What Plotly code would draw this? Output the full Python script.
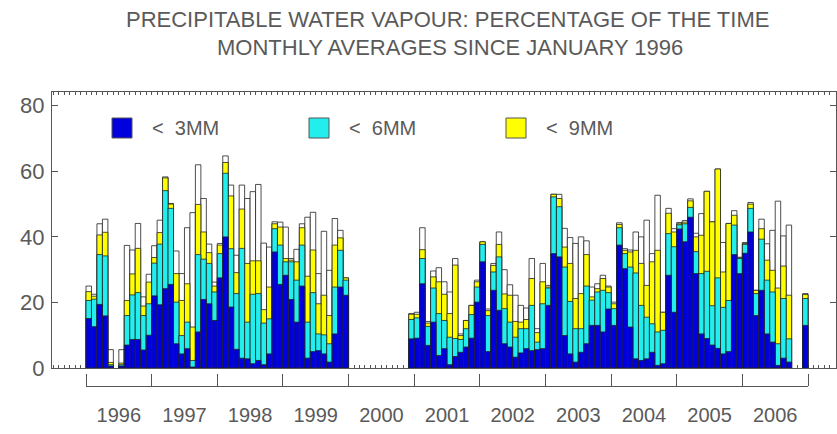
import plotly.graph_objects as go

# ---------------- data (monthly, Jan 1996 .. Dec 2006; None = no data) ----------------
years = [1996, 1997, 1998, 1999, 2000, 2001, 2002, 2003, 2004, 2005, 2006]
N = None

pct_lt3 = [
    15.1, 12.6, 19.4, 15.9, 0.6, N, 0.6, 7.0, 8.7, 8.7, 5.5, 10.0,
    22.0, 19.3, 24.2, 25.5, 7.4, 4.3, 5.9, 0.3, 11.0, 20.9, 19.6, 14.5,
    27.5, 40.0, 18.6, 5.7, 3.0, 2.8, 1.3, 2.3, 1.0, 4.3, 35.4, 25.5,
    28.3, 20.9, 14.0, 25.0, 3.0, 5.0, 5.3, 4.3, 1.8, 10.4, 24.7, 22.2,
    N, N, N, N, N, N, N, N, N, N, N, 8.9,
    9.1, 25.7, 6.9, 14.0, 3.8, 5.9, 1.0, 3.5, 4.8, 6.4, 9.1, 20.1,
    32.4, 5.0, 23.7, 17.6, 7.4, 6.4, 3.3, 4.6, 5.9, 5.3, 5.6, 5.9,
    19.1, 34.9, 33.9, 9.9, 4.3, 1.8, 4.8, 7.4, 13.0, 13.0, 11.0, 18.0,
    13.0, 37.5, 30.3, 12.5, 2.8, 2.3, 2.8, 4.8, 0.8, 1.3, 28.3, 17.0,
    42.4, 38.5, 46.0, 28.8, 10.4, 9.0, 7.0, 6.0, 4.3, 5.0, 34.6, 28.8,
    35.0, 41.5, 16.0, 23.7, 10.4, 7.9, 0.8, 3.0, 1.8, N, N, 13.0,
]

pct_lt6 = [
    20.6, 21.0, 34.6, 34.2, 1.0, N, 1.0, 16.0, 22.3, 23.0, 16.0, 19.6,
    32.0, 37.8, 54.1, 48.7, 20.1, 9.9, 14.0, 2.3, 34.6, 33.2, 31.9, 23.2,
    34.9, 59.4, 36.4, 22.7, 36.5, 14.0, 22.5, 22.7, 13.7, 15.0, 42.5, 37.5,
    32.4, 32.4, 26.8, 37.5, 14.0, 23.0, 10.4, 10.1, 7.4, 24.7, 35.9, 26.8,
    N, N, N, N, N, N, N, N, N, N, N, 14.8,
    15.3, 33.4, 12.7, 24.4, 16.6, 14.5, 9.4, 9.0, 8.7, 12.0, 16.3, 24.7,
    37.7, 16.0, 29.3, 33.9, 18.1, 14.0, 9.4, 12.0, 12.0, 19.1, 7.9, 19.6,
    24.4, 52.2, 49.2, 30.8, 20.3, 12.0, 12.0, 25.0, 20.7, 23.2, 23.7, 23.0,
    18.1, 42.8, 34.9, 30.8, 29.0, 19.1, 15.5, 13.5, 11.0, 11.5, 41.0, 37.0,
    43.7, 44.0, 49.0, 35.5, 28.8, 29.5, 19.0, 27.5, 18.5, 20.6, 43.6, 33.4,
    37.7, 48.7, 22.7, 39.3, 26.8, 23.2, 7.4, 21.2, 8.9, N, N, 21.2,
]

pct_lt9 = [
    23.3, 21.9, 40.6, 41.4, 1.7, N, 1.5, 20.6, 28.7, 36.5, 18.9, 26.2,
    33.7, 41.3, 58.0, 50.0, 28.8, 20.6, 25.7, 12.5, 49.9, 41.5, 35.2, 25.0,
    37.5, 62.7, 52.5, 29.1, 48.5, 31.9, 32.7, 32.7, 17.8, 24.7, 44.0, 43.0,
    33.4, 32.9, 32.4, 42.8, 28.0, 36.0, 19.6, 22.2, 16.0, 37.5, 39.7, 27.5,
    N, N, N, N, N, N, N, N, N, N, N, 16.4,
    16.4, 36.1, 13.7, 27.8, 26.3, 22.5, 16.6, 31.4, 9.9, 14.5, 19.1, 26.3,
    38.5, 17.5, 31.3, 37.7, 22.6, 22.2, 14.2, 14.0, 14.8, 27.3, 10.8, 26.3,
    24.7, 53.0, 51.7, 36.9, 31.9, 21.2, 22.7, 34.6, 21.7, 24.2, 27.3, 24.7,
    19.6, 43.8, 35.9, 35.4, 35.9, 31.9, 25.2, 32.4, 35.9, 17.0, 47.2, 41.5,
    44.0, 44.5, 51.0, 40.0, 40.5, 53.9, 44.6, 60.7, 29.3, 44.1, 46.6, 33.6,
    38.0, 50.0, 23.7, 42.5, 32.9, 29.8, 24.4, 31.1, 22.2, N, N, 22.4,
]

pct_upper = [
    25.0, 22.5, 44.0, 45.4, 5.6, N, 5.6, 37.4, 36.0, 44.1, 21.7, 28.6,
    37.3, 45.1, 58.3, 50.2, 35.7, 28.8, 42.8, 47.4, 62.0, 51.7, 37.8, 26.2,
    38.0, 64.7, 55.8, 34.4, 55.8, 51.7, 53.8, 56.0, 38.1, 36.9, 44.6, 44.5,
    43.0, 33.4, 36.2, 44.0, 46.0, 47.5, 28.8, 41.7, 29.8, 45.6, 42.0, 27.5,
    N, N, N, N, N, N, N, N, N, N, N, 16.6,
    17.0, 42.8, 14.2, 29.6, 30.6, 26.3, 23.2, 33.4, 10.4, 14.5, 19.1, 26.8,
    38.5, 18.0, 31.9, 41.5, 30.0, 25.4, 22.2, 19.1, 18.3, 33.4, 12.0, 31.9,
    25.2, 53.0, 53.0, 42.6, 39.8, 38.0, 40.0, 38.8, 24.7, 25.7, 28.3, 25.0,
    20.1, 44.3, 36.4, 36.0, 41.5, 40.0, 45.1, 34.9, 52.7, 17.0, 48.7, 42.5,
    44.4, 45.0, 51.6, 41.1, 47.1, 53.9, 44.6, 60.7, 38.3, 44.1, 48.0, 33.8,
    38.3, 50.5, 23.7, 45.4, 37.9, 42.0, 50.9, 40.3, 43.6, N, N, 22.7,
]

legend_labels = ["&lt;\u00a0 3MM", "&lt;\u00a0 6MM", "&lt;\u00a0 9MM"]

# ---------------- styling ----------------
W, H = 837, 434
ML, MR, MT, MB = 52, 1, 92, 10
FONT = "Liberation Sans, Arial, sans-serif"
TXT = "#5a5a5a"
AX = "#555555"
C_BLUE, C_CYAN, C_YEL, C_WHITE = "#0000DD", "#22EEEE", "#FFFF00", "#FFFFFF"

n_months = len(pct_lt3)
month_index = list(range(n_months))
month_px = 5.47
x_min = -(86 - ML) / month_px
x_max = x_min + (W - ML - MR) / month_px

PW, PH = W - ML - MR, H - MT - MB


def fx(px):
    return (px - ML) / PW


def fy(py):
    return (H - MB - py) / PH


fig = go.Figure()
for vals, col, name in [
    (pct_upper, C_WHITE, "upper"),
    (pct_lt9, C_YEL, "< 9MM"),
    (pct_lt6, C_CYAN, "< 6MM"),
    (pct_lt3, C_BLUE, "< 3MM"),
]:
    fig.add_trace(go.Bar(
        x=month_index, y=vals, width=1, offset=0, name=name,
        marker=dict(color=col, line=dict(color="#222222", width=0.8)),
        showlegend=False, hoverinfo="skip",
    ))

# invisible trace so the year axis exists
fig.add_trace(go.Scatter(x=[None], y=[None], xaxis="x2", yaxis="y",
                         showlegend=False, hoverinfo="skip"))

y_bottom_dom = fy(368)
span = x_max - x_min
fig.update_layout(
    width=W, height=H,
    margin=dict(l=ML, r=MR, t=MT, b=MB, autoexpand=False),
    paper_bgcolor="white", plot_bgcolor="rgba(0,0,0,0)",
    barmode="overlay", bargap=0,
    font=dict(family=FONT, color=TXT),
    xaxis=dict(
        range=[x_min, x_max], domain=[0, 1], showline=True, mirror="ticks",
        linecolor=AX, linewidth=1, ticks="inside", tick0=0, dtick=1, ticklen=3,
        tickcolor=AX, showticklabels=False, showgrid=False, zeroline=False,
        layer="below traces", automargin=False,
    ),
    yaxis=dict(
        range=[0, 84.2], domain=[y_bottom_dom, 1], showline=True, mirror="ticks",
        linecolor=AX, linewidth=1, ticks="inside", tickvals=[0, 20, 40, 60, 80],
        ticklen=6, tickcolor=AX, showgrid=False, zeroline=False,
        tickfont=dict(size=22, color=TXT, family=FONT), ticklabelstandoff=2,
        layer="below traces", automargin=False,
    ),
    xaxis2=dict(
        range=[0, n_months], domain=[(0 - x_min) / span, (n_months - x_min) / span],
        anchor="free", position=fy(386), showline=True, linecolor=AX, linewidth=1,
        tickvals=[12 * k + 6 for k in range(len(years))], ticktext=[str(y) for y in years],
        ticks="", showgrid=False, zeroline=False, automargin=False,
        minor=dict(ticks="inside", tick0=0, dtick=12, ticklen=12, tickcolor=AX),
        tickfont=dict(size=20, color=TXT, family=FONT), ticklabelstandoff=11,
    ),
)

# title
fig.add_annotation(text="PRECIPITABLE WATER VAPOUR: PERCENTAGE OF THE TIME",
                   xref="paper", yref="paper", x=fx(448), y=fy(20), showarrow=False,
                   font=dict(size=22, color=TXT, family=FONT), xanchor="center", yanchor="middle")
fig.add_annotation(text="MONTHLY AVERAGES SINCE JANUARY 1996",
                   xref="paper", yref="paper", x=fx(450), y=fy(47), showarrow=False,
                   font=dict(size=22, color=TXT, family=FONT), xanchor="center", yanchor="middle")

# legend (drawn manually to match the large square swatches)
for sq_x, col, lab in [(112, C_BLUE, legend_labels[0]), (309, C_CYAN, legend_labels[1]),
                       (506, C_YEL, legend_labels[2])]:
    fig.add_shape(type="rect", xref="paper", yref="paper",
                  x0=fx(sq_x), x1=fx(sq_x + 20), y0=fy(138), y1=fy(118),
                  fillcolor=col, line=dict(color="#555555", width=1))
    fig.add_annotation(text=lab, xref="paper", yref="paper", x=fx(sq_x + 38), y=fy(128),
                       showarrow=False, xanchor="left", yanchor="middle",
                       font=dict(size=20, color=TXT, family=FONT))

fig.write_html("out.html", config={"displayModeBar": False, "staticPlot": True},
               post_script="document.body.style.margin='0px';")
